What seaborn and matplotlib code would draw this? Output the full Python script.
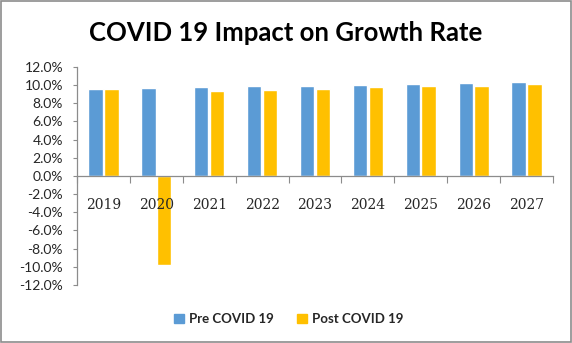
import matplotlib
matplotlib.use("Agg")
import matplotlib.pyplot as plt
import seaborn as sns
import pandas as pd
from matplotlib.ticker import FuncFormatter, MultipleLocator, FixedLocator
from matplotlib.patches import Rectangle

years = ["2019", "2020", "2021", "2022", "2023", "2024", "2025", "2026", "2027"]
pre_covid = [9.55, 9.65, 9.75, 9.85, 9.95, 10.05, 10.15, 10.25, 10.35]
post_covid = [9.55, -9.85, 9.35, 9.45, 9.55, 9.75, 9.85, 9.95, 10.15]
series_names = ["Pre COVID 19", "Post COVID 19"]
palette = ["#5B9BD5", "#FFC000"]

df = pd.DataFrame({
    "Year": years * 2,
    "Rate": pre_covid + post_covid,
    "Series": [series_names[0]] * len(years) + [series_names[1]] * len(years),
})

sns.set_theme(style="white")
plt.rcParams["font.family"] = ["Lato", "DejaVu Sans"]

fig = plt.figure(figsize=(5.72, 3.43), dpi=100)
ax = fig.add_axes([0.1346, 0.169, 0.832, 0.636])

sns.barplot(data=df, x="Year", y="Rate", hue="Series", palette=palette,
            width=0.6, gap=0.1, saturation=1, ax=ax, legend=False)

# keep axis lines and tick labels above the bars
ax.set_axisbelow(False)

ax.set_ylim(-12, 12)
ax.set_xlim(-0.5, len(years) - 0.5)
ax.yaxis.set_major_locator(MultipleLocator(2))
ax.yaxis.set_major_formatter(FuncFormatter(lambda v, _: f"{v:.1f}%"))
ax.set_xlabel("")
ax.set_ylabel("")

for side in ["top", "right"]:
    ax.spines[side].set_visible(False)
ax.spines["bottom"].set_position(("data", 0))
for side in ["left", "bottom"]:
    ax.spines[side].set_color("#8c8c8c")
    ax.spines[side].set_linewidth(0.9)

ax.tick_params(axis="y", which="major", direction="out", length=3, width=0.8,
               color="#8c8c8c", labelsize=10, pad=7, left=True)
for lbl in ax.get_yticklabels():
    lbl.set_fontfamily(["Lato", "DejaVu Sans"])

ax.tick_params(axis="x", which="major", length=0, pad=16, labelsize=10)
for lbl in ax.get_xticklabels():
    lbl.set_fontfamily(["DejaVu Serif"])
ax.xaxis.set_minor_locator(FixedLocator([i + 0.5 for i in range(-1, len(years))]))
ax.tick_params(axis="x", which="minor", direction="out", length=5, width=0.8,
               color="#8c8c8c", bottom=True)

fig.text(0.5, 0.905, "COVID 19 Impact on Growth Rate", ha="center", va="center",
         fontsize=18.5, fontweight="bold", color="black")

handles = [Rectangle((0, 0), 1, 1, color=c) for c in palette]
fig.legend(handles, series_names, loc="center", bbox_to_anchor=(0.505, 0.07),
           ncol=2, frameon=False, handlelength=0.7,
           handleheight=0.7, handletextpad=0.4, columnspacing=1.8,
           prop={"weight": "bold", "size": 9.5})

fig.patches.append(Rectangle((0.001, 0.002), 0.997, 0.996, transform=fig.transFigure,
                             fill=False, edgecolor="#8c8c8c", linewidth=1.2))

fig.savefig("out.png", dpi=100)
